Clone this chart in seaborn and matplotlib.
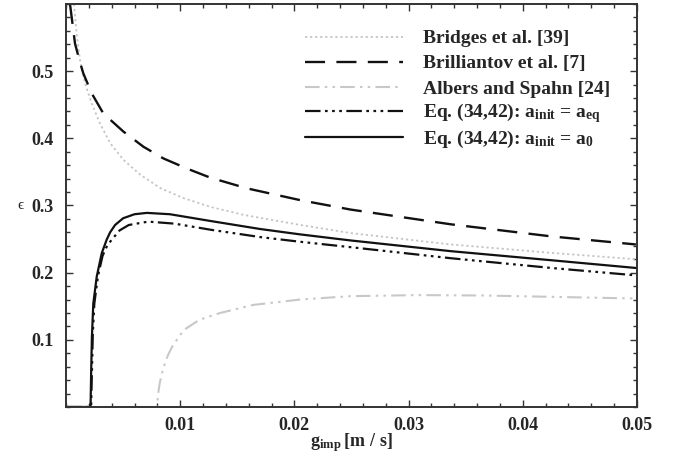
import numpy as np
import pandas as pd
import seaborn as sns
import matplotlib.pyplot as plt
from matplotlib.ticker import MultipleLocator

# values (g in m/s, epsilon)
g_bridges = [0.0007, 0.00095, 0.00123, 0.00167, 0.00225, 0.00298, 0.00386, 0.00503,
             0.00649, 0.00825, 0.01029, 0.01263, 0.01556, 0.02053, 0.0249,
             0.0337, 0.0425, 0.0499]
eps_bridges = [0.600, 0.553, 0.516, 0.482, 0.452, 0.422, 0.393, 0.368,
               0.346, 0.326, 0.311, 0.298, 0.286, 0.271, 0.259,
               0.242, 0.2295, 0.220]

g_brill = [0.00035, 0.00079, 0.00123, 0.00152, 0.00225, 0.00327, 0.00503,
           0.00678, 0.00854, 0.01059, 0.01263, 0.01585, 0.0205, 0.0249,
           0.0337, 0.0425, 0.0499]
eps_brill = [0.600, 0.541, 0.513, 0.4965, 0.467, 0.437, 0.410,
             0.3875, 0.370, 0.355, 0.3415, 0.3255, 0.308, 0.294,
             0.272, 0.254, 0.242]

g_albers = [0.0, 0.0080, 0.00803, 0.0082, 0.0085, 0.0089, 0.0093, 0.0103,
            0.0117, 0.0135, 0.0164, 0.0205, 0.0249, 0.0308, 0.0366, 0.0425, 0.0497]
eps_albers = [0.0, 0.0, 0.015, 0.035, 0.057, 0.076, 0.090, 0.1145,
              0.130, 0.140, 0.152, 0.160, 0.165, 0.1666, 0.166, 0.164, 0.1616]

g_eq = [0.0, 0.0022, 0.00228, 0.00235, 0.00248, 0.0028, 0.0032, 0.0036,
        0.0040, 0.0047, 0.0055, 0.0072, 0.0095, 0.01263, 0.017, 0.0205,
        0.0249, 0.0337, 0.0425, 0.0499]
eps_eq = [0.0, 0.0, 0.060, 0.110, 0.154, 0.195, 0.225, 0.240,
          0.249, 0.263, 0.271, 0.276, 0.273, 0.264, 0.253, 0.246,
          0.238, 0.2215, 0.207, 0.196]

g_a0 = [0.0, 0.00215, 0.0022, 0.00227, 0.00239, 0.00269, 0.00313, 0.00356,
        0.00386, 0.0043, 0.0050, 0.0060, 0.00708, 0.0091, 0.01263, 0.017,
        0.0205, 0.0249, 0.0337, 0.0425, 0.0499]
eps_a0 = [0.0, 0.0, 0.050, 0.105, 0.154, 0.194, 0.229, 0.249,
          0.260, 0.271, 0.281, 0.287, 0.289, 0.287, 0.277, 0.265,
          0.257, 0.248, 0.232, 0.2185, 0.207]

labels = ['Bridges et al. [39]',
          'Brilliantov et al. [7]',
          'Albers and Spahn [24]',
          r'Eq. (34,42): $\mathrm{a}_{\mathrm{init}}$ = $\mathrm{a}_{\mathrm{eq}}$',
          r'Eq. (34,42): $\mathrm{a}_{\mathrm{init}}$ = $\mathrm{a}_{0}$']

x_ticks = [0.01, 0.02, 0.03, 0.04, 0.05]
x_ticklabels = ['0.01', '0.02', '0.03', '0.04', '0.05']
y_ticks = [0.1, 0.2, 0.3, 0.4, 0.5]
y_ticklabels = ['0.1', '0.2', '0.3', '0.4', '0.5']

sns.set_style('ticks')
plt.rcParams['font.family'] = ['Liberation Serif', 'DejaVu Serif']
plt.rcParams['font.weight'] = 'bold'
plt.rcParams['mathtext.fontset'] = 'custom'
plt.rcParams['mathtext.rm'] = 'Liberation Serif:bold'
plt.rcParams['mathtext.it'] = 'Liberation Serif:bold'
plt.rcParams['mathtext.bf'] = 'Liberation Serif:bold'

fig = plt.figure(figsize=(6.78, 4.57), dpi=100)
ax = fig.add_axes([66/678, 1 - 407/457, (637 - 66)/678, (407 - 4)/457])

series = [
    (g_bridges, eps_bridges, '#c4c4c4', 1.3, (0, (1.2, 1.6))),
    (g_brill, eps_brill, '#111111', 1.7, (0, (8.5, 4.8))),
    (g_albers, eps_albers, '#c8c8c8', 1.5, (0, (7, 2.5, 1.2, 2.5, 1.2, 2.5))),
    (g_eq, eps_eq, '#111111', 1.6, (0, (7, 2, 1.2, 2, 1.2, 2, 1.2, 2))),
    (g_a0, eps_a0, '#111111', 1.6, '-'),
]
for g, e, c, lw, ls in series:
    sns.lineplot(x=g, y=e, ax=ax, color=c, lw=lw, ls=ls, sort=False, estimator=None)

ax.set_xlim(0, 0.05)
ax.set_ylim(0, 0.6)
ax.set_xticks(x_ticks)
ax.set_xticklabels(x_ticklabels)
ax.set_yticks(y_ticks)
ax.set_yticklabels(y_ticklabels)
ax.xaxis.set_minor_locator(MultipleLocator(0.002))
ax.yaxis.set_minor_locator(MultipleLocator(0.02))
ax.tick_params(which='both', direction='in', top=True, right=True,
               color='#333333', labelsize=13, width=1)
ax.tick_params(which='major', length=5)
ax.tick_params(which='minor', length=3)
ax.tick_params(axis='x', pad=7)
ax.tick_params(axis='y', pad=9)
for s in ax.spines.values():
    s.set_visible(True)
    s.set_color('#333333')
    s.set_linewidth(1.4)

ax.set_xlabel(r'$\mathrm{g}_{\mathrm{imp}}\,[\mathrm{m\ /\ s}]$', fontsize=13, labelpad=0)
ax.xaxis.set_label_coords(0.5, -0.06, transform=ax.transAxes)
ax.xaxis.label.set_va('top')
ax.set_ylabel('\u03f5', fontsize=11, fontweight='normal', rotation=0, va='center')
ax.yaxis.set_label_coords(-0.08, 0.5)

# legend in two blocks so the rows with subscripts keep the same spacing
lines = ax.get_lines()
leg_kw = dict(loc='upper left', bbox_transform=fig.transFigure, frameon=False,
              fontsize=14, handlelength=5.05, handletextpad=1.0,
              borderpad=0, borderaxespad=0)
leg1 = ax.legend(lines[:3], labels[:3], bbox_to_anchor=(305/678, 1 - 29.7/457),
                 labelspacing=0.385, **leg_kw)
ax.add_artist(leg1)
ax.legend(lines[3:], labels[3:], bbox_to_anchor=(305/678, 1 - 101.3/457),
          labelspacing=0.2, **leg_kw)

plt.savefig('out.png', dpi=100)
